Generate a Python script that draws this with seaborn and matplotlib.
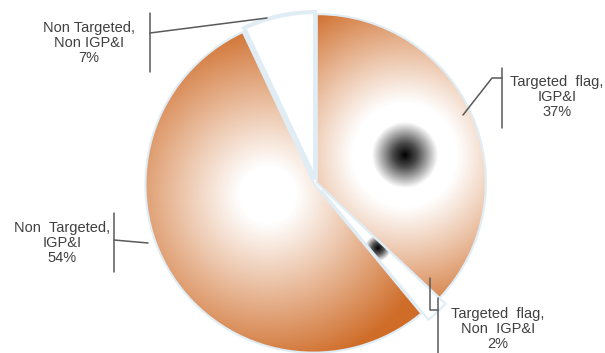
import numpy as np
import matplotlib
matplotlib.use('Agg')
import matplotlib.pyplot as plt
import seaborn as sns
from matplotlib.colors import to_rgb


labels = ['Targeted  flag,\nIGP&I\n37%', 'Targeted  flag,\nNon  IGP&I\n2%',
          'Non  Targeted,\nIGP&I\n54%', 'Non Targeted,\nNon IGP&I\n7%']
values = [37, 2, 54, 7]

sns.set_theme(style='white')
plt.rcParams['font.family'] = ['Liberation Sans', 'DejaVu Sans']

W, H = 605, 353
fig = plt.figure(figsize=(W / 100, H / 100), dpi=100)
ax = fig.add_axes([0, 0, 1, 1])


def iy(y):
    # image row -> data y (pixels, y up)
    return H - y


wedges, _ = ax.pie(values, startangle=90, counterclock=False, radius=167,
                   center=(316, iy(183)), explode=[2, 9, 3, 4],
                   wedgeprops=dict(facecolor='white', edgecolor='#e0edf5',
                                   linewidth=3, zorder=1))

xs = np.arange(W) + 0.5
ys = np.arange(H) + 0.5
xx, yy = np.meshgrid(xs, ys)
orange = '#cf6c28'


def gradient(cx, cy, stops):
    d = np.hypot(xx - cx, yy - iy(cy))
    pos = [s[0] for s in stops]
    cols = np.array([to_rgb(s[1]) for s in stops])
    img = np.stack([np.interp(d, pos, cols[:, k]) for k in range(3)], axis=-1)
    return img


fills = [
    (405, 155, [(0, '#000000'), (12, '#4a4a4a'), (33, '#ffffff'), (52, '#ffffff'), (170, orange)]),
    (378, 248, [(0, '#000000'), (6, '#555555'), (13, '#ffffff'), (60, '#ffffff')]),
    (268, 195, [(0, '#ffffff'), (28, '#ffffff'), (175, orange)]),
    None,
]

for w, f in zip(wedges, fills):
    if f is None:
        continue
    im = ax.imshow(gradient(*f), extent=(0, W, 0, H), origin='lower',
                   interpolation='bilinear', zorder=2)
    im.set_clip_path(w)

txt = dict(fontsize=10.5, color='#404040', ha='center', va='center',
           linespacing=1.1, zorder=5)
line = dict(color='#5a5a5a', lw=1.1, zorder=4)

# label positions (image pixels)
label_xy = [(557, 97), (498, 329), (62, 243), (89, 43)]
for lab, (x, y) in zip(labels, label_xy):
    ax.text(x, iy(y), lab, **txt)

# leader lines and bars
ax.plot([502, 502], [iy(68), iy(128)], **line)
ax.plot([502, 492, 463], [iy(78), iy(78), iy(115)], **line)
ax.plot([438, 438], [iy(298), iy(356)], **line)
ax.plot([430, 430, 438], [iy(278), iy(310), iy(310)], **line)
ax.plot([114, 114], [iy(213), iy(272)], **line)
ax.plot([114, 148], [iy(240), iy(243)], **line)
ax.plot([150, 150], [iy(13), iy(72)], **line)
ax.plot([150, 267], [iy(33), iy(18)], **line)

ax.set_xlim(0, W)
ax.set_ylim(0, H)
ax.set_aspect('equal')
ax.axis('off')

fig.savefig('out.png', dpi=100)
